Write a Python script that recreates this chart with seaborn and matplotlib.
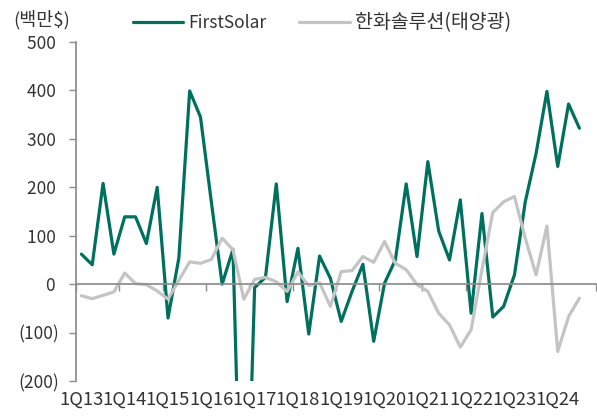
import matplotlib
matplotlib.use("Agg")
import matplotlib.pyplot as plt
import pandas as pd
import seaborn as sns

# quarterly operating profit, 1Q13 ~ 3Q24 (백만$)
years = list(range(13, 25))
quarters = ["%dQ%d" % (q, y) for y in years for q in range(1, 5)]
first_solar = [62, 40, 208, 62, 139, 139, 84, 200,
               -70, 54, 399, 345, 170, 0, 72, -750,
               -7, 14, 207, -36, 74, -103, 58, 12,
               -77, -15, 41, -118, 2, 50, 207, 57,
               253, 110, 50, 174, -60, 146, -68, -46,
               19, 170, 270, 398, 243, 372, 322]
hanwha = [-24, -30, -23, -16, 23, 1, -1, -14,
          -31, 8, 46, 43, 51, 95, 71, -31,
          10, 14, 5, -15, 25, -3, 3, -46,
          26, 28, 57, 45, 88, 43, 30, -1,
          -15, -60, -84, -130, -94, 30, 148, 170,
          181, 95, 19, 120, -139, -67, -29]
series_names = ["FirstSolar", "한화솔루션(태양광)"]
yticks = [-200, -100, 0, 100, 200, 300, 400, 500]

n = len(first_solar)
df = pd.DataFrame({
    "quarter": quarters[:n] * 2,
    "value": first_solar + hanwha,
    "series": [series_names[0]] * n + [series_names[1]] * n,
})

sns.set_theme(style="white")
plt.rcParams["font.family"] = ["Noto Sans CJK KR", "DejaVu Sans"]
text_color = "#333333"
axis_color = "#8c8c8c"

fig = plt.figure(figsize=(5.97, 4.17), dpi=100)
ax = fig.add_axes([0.1273, 0.0863, 0.8704, 0.813])

sns.lineplot(data=df, x="quarter", y="value", hue="series", sort=False,
             palette=["#00705E", "#C4C4C4"], linewidth=2.3, ax=ax,
             legend=True)

ax.set_xlim(-0.5, len(quarters) - 0.5)
ax.set_ylim(-200, 500)
ax.set_xlabel("")
ax.set_ylabel("")

# y axis
ax.set_yticks(yticks)
ax.set_yticklabels([("(%d)" % -v) if v < 0 else ("%d " % v) for v in yticks])
ax.tick_params(axis="y", direction="out", length=5, width=1, color=axis_color,
               labelsize=12.5, labelcolor=text_color, pad=7, left=True)

# category axis crossing at zero, ticks between years
for s in ["top", "right"]:
    ax.spines[s].set_visible(False)
ax.spines["left"].set_color(axis_color)
ax.spines["bottom"].set_position(("data", 0))
ax.spines["bottom"].set_color(axis_color)
ax.set_xticks([i * 4 - 0.5 for i in range(len(years) + 1)])
ax.set_xticklabels([])
ax.tick_params(axis="x", direction="out", length=5, width=1, color=axis_color,
               bottom=True)

sec = ax.secondary_xaxis("bottom")
sec.set_xticks([i * 4 for i in range(len(years))])
sec.set_xticklabels(quarters[::4])
sec.tick_params(length=0, labelsize=13.3, labelcolor=text_color, pad=7)
sec.spines["bottom"].set_visible(False)

# legend on top
handles, labels = ax.get_legend_handles_labels()
ax.get_legend().remove()
leg = fig.legend(handles, labels, loc="center left",
                 bbox_to_anchor=(0.222, 0.945), ncol=2, frameon=False,
                 fontsize=12.5, handlelength=2.9, handletextpad=0.3,
                 columnspacing=1.9, borderpad=0, borderaxespad=0,
                 labelcolor=text_color)
leg.get_texts()[1].set_fontsize(14)

fig.text(0.022, 0.952, "(백만$)", fontsize=13.3, color=text_color,
         ha="left", va="center")

fig.savefig("out.png", dpi=100)
